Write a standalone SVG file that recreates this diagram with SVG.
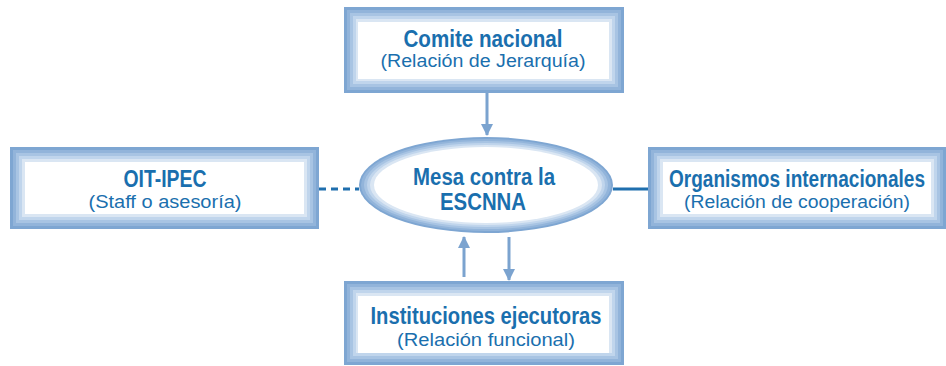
<svg xmlns="http://www.w3.org/2000/svg" width="946" height="366" viewBox="0 0 946 366">
<style>
.t{font-family:"Liberation Sans",Arial,sans-serif;font-weight:bold;font-size:24px;fill:#1a6fae;text-anchor:middle}
.s{font-family:"Liberation Sans",Arial,sans-serif;font-size:17.5px;fill:#1a6fae;text-anchor:middle}
.f0{fill:#7ea6d2}.f1{fill:#92b4da}.f2{fill:#a8c4e3}.f3{fill:#c0d5ec}.f4{fill:#dae6f3}.f5{fill:#ffffff}
.arr{stroke:#7ba3cf;stroke-width:3;fill:none}
.ln{stroke:#1f6fae;stroke-width:3;fill:none}
</style>
<defs>
<marker id="ah" viewBox="0 0 12 12" refX="11" refY="6" markerWidth="12" markerHeight="12" markerUnits="userSpaceOnUse" orient="auto">
<path d="M0,0 L12,6 L0,12 Z" fill="#7ba3cf"/>
</marker>
</defs>
<g id="connectors">
<line class="arr" x1="487" y1="93" x2="487" y2="135" marker-end="url(#ah)"/>
<line class="arr" x1="464" y1="277" x2="464" y2="237" marker-end="url(#ah)"/>
<line class="arr" x1="509" y1="237" x2="509" y2="280" marker-end="url(#ah)"/>
<line class="ln" x1="319" y1="189" x2="359" y2="189" stroke-dasharray="7,5"/>
<line class="ln" x1="613" y1="189" x2="648" y2="189"/>
</g>
<g id="comite">
<rect class="f0" x="344" y="7" width="280" height="86"/>
<rect class="f1" x="347" y="10" width="274" height="80"/>
<rect class="f2" x="350" y="13" width="268" height="74"/>
<rect class="f3" x="353" y="16" width="262" height="68"/>
<rect class="f4" x="356" y="19" width="256" height="62"/>
<rect class="f5" x="358" y="22" width="251" height="57"/>
<text class="t" x="483" y="47" textLength="159" lengthAdjust="spacingAndGlyphs">Comite nacional</text>
<text class="s" x="483" y="67" textLength="205" lengthAdjust="spacingAndGlyphs">(Relación de Jerarquía)</text>
</g>
<g id="oit">
<rect class="f0" x="10" y="147" width="309" height="82"/>
<rect class="f1" x="13" y="150" width="303" height="76"/>
<rect class="f2" x="16" y="153" width="297" height="70"/>
<rect class="f3" x="19" y="156" width="291" height="64"/>
<rect class="f4" x="22" y="159" width="285" height="58"/>
<rect class="f5" x="25" y="162" width="279" height="52"/>
<text class="t" x="165" y="187" textLength="83" lengthAdjust="spacingAndGlyphs">OIT-IPEC</text>
<text class="s" x="165" y="208" textLength="153" lengthAdjust="spacingAndGlyphs">(Staff o asesoría)</text>
</g>
<g id="organismos">
<rect class="f0" x="648" y="147" width="298" height="82"/>
<rect class="f1" x="651" y="150" width="292" height="76"/>
<rect class="f2" x="654" y="153" width="286" height="70"/>
<rect class="f3" x="657" y="156" width="280" height="64"/>
<rect class="f4" x="660" y="159" width="274" height="58"/>
<rect class="f5" x="663" y="162" width="268" height="52"/>
<text class="t" transform="translate(797,187) scale(1,1.23)" x="0" y="0" style="font-size:19.5px" textLength="256" lengthAdjust="spacingAndGlyphs">Organismos internacionales</text>
<text class="s" x="797" y="208" textLength="226" lengthAdjust="spacingAndGlyphs">(Relación de cooperación)</text>
</g>
<g id="instituciones">
<rect class="f0" x="344" y="281" width="280" height="84"/>
<rect class="f1" x="347" y="284" width="274" height="78"/>
<rect class="f2" x="350" y="287" width="268" height="72"/>
<rect class="f3" x="353" y="290" width="262" height="66"/>
<rect class="f4" x="356" y="293" width="256" height="60"/>
<rect class="f5" x="358" y="296" width="251" height="57"/>
<text class="t" x="486" y="324" textLength="231" lengthAdjust="spacingAndGlyphs">Instituciones ejecutoras</text>
<text class="s" x="486" y="346" textLength="178" lengthAdjust="spacingAndGlyphs">(Relación funcional)</text>
</g>
<g id="mesa">
<ellipse class="f0" cx="486" cy="185" rx="127" ry="48"/>
<ellipse class="f1" cx="486" cy="185" rx="125" ry="46"/>
<ellipse class="f2" cx="486" cy="185" rx="122" ry="44"/>
<ellipse class="f3" cx="486" cy="185" rx="119" ry="42"/>
<ellipse class="f4" cx="486" cy="185" rx="116" ry="40"/>
<ellipse class="f5" cx="486" cy="185" rx="112" ry="38"/>
<text class="t" x="484" y="185" textLength="142" lengthAdjust="spacingAndGlyphs">Mesa contra la</text>
<text class="t" x="483" y="210" textLength="86" lengthAdjust="spacingAndGlyphs">ESCNNA</text>
</g>
</svg>
